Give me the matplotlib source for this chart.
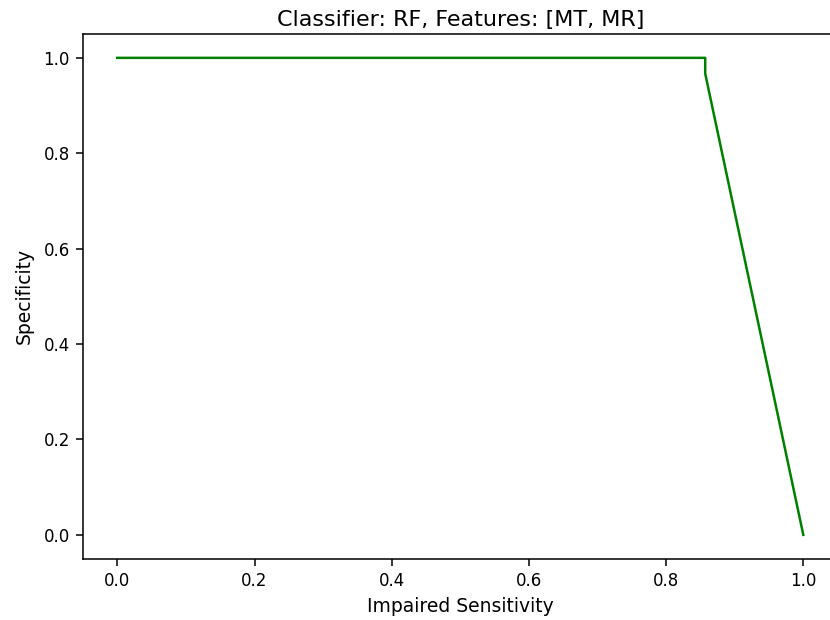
import matplotlib
matplotlib.use("Agg")
import matplotlib.pyplot as plt

# curve points
sensitivity = [0.0, 0.857, 0.857, 1.0]
specificity = [1.0, 1.0, 0.967, 0.0]

fig = plt.figure(figsize=(8.3, 6.2), dpi=100)
# axes run slightly past the right edge, like the cropped original
ax = fig.add_axes([83 / 830, 61.3 / 620, 754.6 / 830, 524.7 / 620])
ax.plot(sensitivity, specificity, color="green", linewidth=1.8)
ax.set_title("Classifier: RF, Features: [MT, MR]", fontsize=16, pad=6)
ax.set_xlabel("Impaired Sensitivity", fontsize=13.5, labelpad=5)
ax.set_ylabel("Specificity", fontsize=13.5, labelpad=7)
ax.tick_params(labelsize=12, length=4.7, width=1.1, pad=4.7)
for s in ax.spines.values():
    s.set_linewidth(1.1)

fig.savefig("out.png", dpi=100)
